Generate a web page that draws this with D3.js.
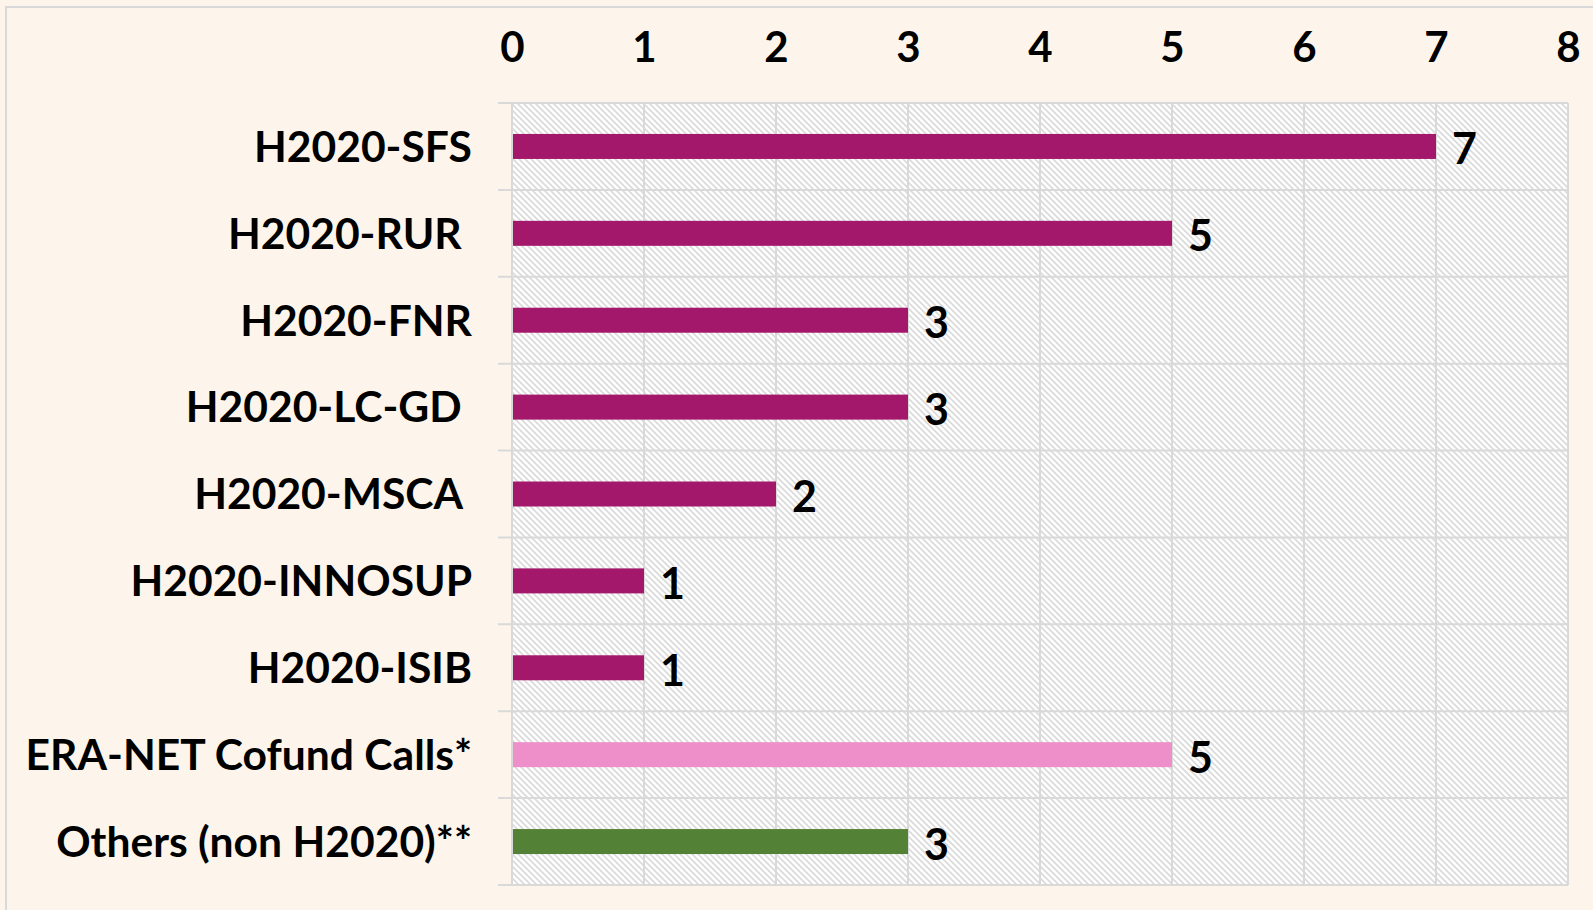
<!DOCTYPE html>
<html>
<head>
<meta charset="utf-8">
<script src="https://cdn.jsdelivr.net/npm/d3@7"></script>
<style>
  html, body { margin: 0; padding: 0; background: #fdf5eb; overflow: hidden; }
  svg { display: block; font-family: Lato, "Open Sans", sans-serif; }
</style>
</head>
<body>
<svg id="chart"></svg>
<script>
// data
const categories = ["H2020-SFS", "H2020-RUR ", "H2020-FNR", "H2020-LC-GD ", "H2020-MSCA ",
  "H2020-INNOSUP", "H2020-ISIB", "ERA-NET Cofund Calls*", "Others (non H2020)**"];
const values = [7, 5, 3, 3, 2, 1, 1, 5, 3];
const groups = ["h2020", "h2020", "h2020", "h2020", "h2020", "h2020", "h2020", "eranet", "other"];
const xTicks = [0, 1, 2, 3, 4, 5, 6, 7, 8];

const width = 1593;
const height = 910;
const plotLeft = 512, plotRight = 1568, plotTop = 103, plotBottom = 885;
const colors = { h2020: "#a3186b", eranet: "#ee8fc9", other: "#538135" };
const gridColor = "#d9d9d9";

const svg = d3.select("#chart").attr("width", width).attr("height", height);

// outer frame
svg.append("rect").attr("x", 6).attr("y", 7).attr("width", width).attr("height", height)
  .attr("fill", "#fdf5eb").attr("stroke", gridColor).attr("stroke-width", 2);

// hatch pattern
const defs = svg.append("defs");
const pat = defs.append("pattern").attr("id", "hatch").attr("patternUnits", "userSpaceOnUse")
  .attr("width", 6).attr("height", 6);
pat.append("rect").attr("width", 6).attr("height", 6).attr("fill", "#ffffff");
pat.append("path").attr("d", "M-1,-1 L7,7 M-1,5 L1,7 M5,-1 L7,1")
  .attr("stroke", "#dadada").attr("stroke-width", 1.6);

const x = d3.scaleLinear().domain([0, 8]).range([plotLeft, plotRight]);
const y = d3.scaleBand().domain(categories).range([plotTop, plotBottom]).paddingInner(0).paddingOuter(0);

svg.append("rect").attr("x", plotLeft).attr("y", plotTop)
  .attr("width", plotRight - plotLeft).attr("height", plotBottom - plotTop)
  .attr("fill", "url(#hatch)");

// vertical grid
svg.append("g").selectAll("line").data(xTicks.slice(1)).enter().append("line")
  .attr("x1", d => x(d)).attr("x2", d => x(d)).attr("y1", plotTop).attr("y2", plotBottom)
  .attr("stroke", gridColor).attr("stroke-width", 2);

// category separators (with tick stubs)
const edges = categories.map(c => y(c)).concat([plotBottom]);
svg.append("g").selectAll("line").data(edges).enter().append("line")
  .attr("x1", plotLeft - 14).attr("x2", plotRight).attr("y1", d => d).attr("y2", d => d)
  .attr("stroke", gridColor).attr("stroke-width", 2);

// value axis line
svg.append("line").attr("x1", plotLeft).attr("x2", plotLeft).attr("y1", plotTop).attr("y2", plotBottom)
  .attr("stroke", gridColor).attr("stroke-width", 2);

// top axis labels
const xAxis = d3.axisTop(x).tickValues(xTicks).tickSize(0).tickPadding(0).tickFormat(d3.format("d"));
const gx = svg.append("g").attr("transform", "translate(0,62)").call(xAxis);
gx.select(".domain").remove();
gx.selectAll("text").attr("font-size", 42).attr("font-weight", 700).attr("fill", "#000")
  .attr("font-family", "Lato, sans-serif").attr("dy", 0);

// category labels
svg.append("g").selectAll("text").data(categories).enter().append("text")
  .attr("x", 472).attr("y", d => y(d) + y.bandwidth() / 2).attr("dy", "0.36em")
  .attr("text-anchor", "end").attr("font-size", 42.6).attr("font-weight", 700).attr("fill", "#000")
  .style("white-space", "pre")
  .text(d => d);

// bars
const barH = 25;
svg.append("g").selectAll("rect").data(values).enter().append("rect")
  .attr("x", x(0) + 1).attr("y", (d, i) => y(categories[i]) + y.bandwidth() / 2 - barH / 2)
  .attr("width", d => x(d) - x(0) - 1).attr("height", barH)
  .attr("fill", (d, i) => colors[groups[i]]);

// value labels
svg.append("g").selectAll("text").data(values).enter().append("text")
  .attr("x", d => x(d) + 16).attr("y", (d, i) => y(categories[i]) + y.bandwidth() / 2 + 18)
  .attr("font-size", 43).attr("font-weight", 700).attr("fill", "#000")
  .text(d => d);
</script>
</body>
</html>
